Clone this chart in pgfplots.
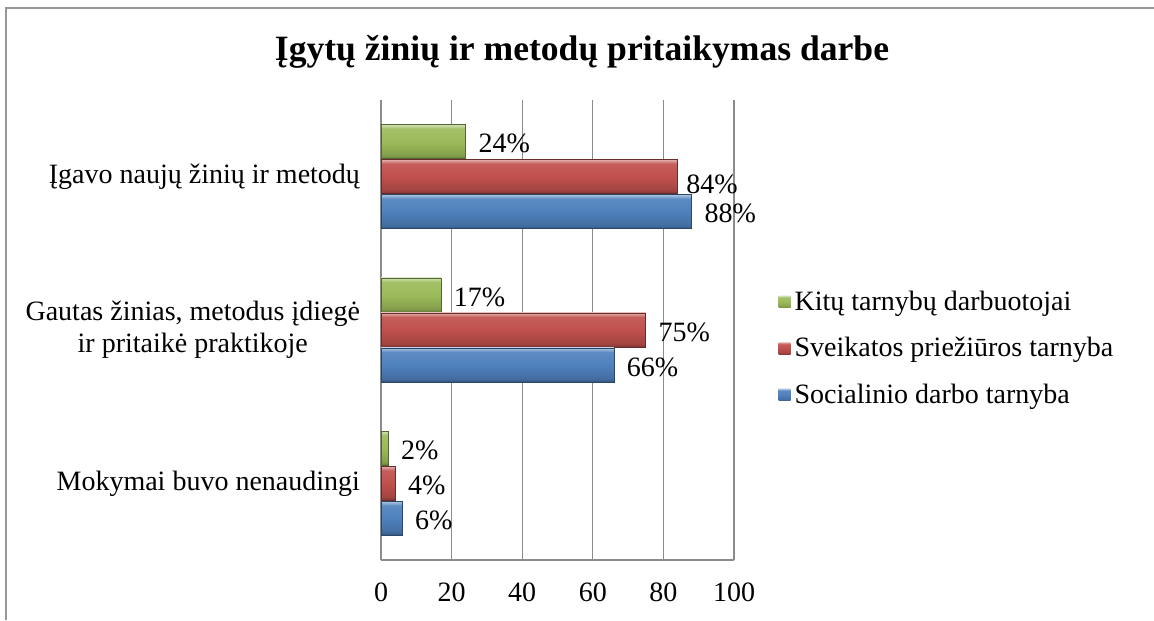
\documentclass[border=0pt]{standalone}
\usepackage{fontspec}
\setmainfont{Liberation Serif}
\usepackage{pgfplots}
\pgfplotsset{compat=1.18}
\definecolor{cgreen}{HTML}{9BBB59}
\definecolor{cred}{HTML}{C0504D}
\definecolor{cblue}{HTML}{4F81BD}
\definecolor{gridgray}{HTML}{8C8C8C}
\pgfdeclareverticalshading{gshade}{100bp}{color(0bp)=(cgreen!65!black); color(25bp)=(cgreen!65!black); color(30bp)=(cgreen!85!black); color(50bp)=(cgreen); color(69bp)=(cgreen!92!white); color(75bp)=(cgreen!45!white); color(100bp)=(cgreen!45!white)}
\pgfdeclareverticalshading{rshade}{100bp}{color(0bp)=(cred!65!black); color(25bp)=(cred!65!black); color(30bp)=(cred!85!black); color(50bp)=(cred); color(69bp)=(cred!92!white); color(75bp)=(cred!45!white); color(100bp)=(cred!45!white)}
\pgfdeclareverticalshading{bshade}{100bp}{color(0bp)=(cblue!65!black); color(25bp)=(cblue!65!black); color(30bp)=(cblue!85!black); color(50bp)=(cblue); color(69bp)=(cblue!92!white); color(75bp)=(cblue!45!white); color(100bp)=(cblue!45!white)}
\pgfplotsset{
  gbar/.style={bar shift=17.5pt, draw=cgreen!55!black, line width=0.3pt, shading=gshade, shade},
  rbar/.style={bar shift=0pt, draw=cred!55!black, line width=0.3pt, shading=rshade, shade},
  bbar/.style={bar shift=-17.5pt, draw=cblue!55!black, line width=0.3pt, shading=bshade, shade},
}
\begin{document}
\begin{tikzpicture}
\useasboundingbox (0,0) rectangle (577pt,310pt);
\draw[gridgray!90, line width=1.2pt] (3pt,0) -- (3pt,306pt) -- (577pt,306pt);
\node[font=\bfseries\fontsize{17.8}{21}\selectfont] at (291pt,284pt) {Įgytų žinių ir metodų pritaikymas darbe};
\begin{axis}[
  at={(190.5pt,30pt)}, anchor=south west,
  scale only axis, width=176.5pt, height=230pt,
  xmin=0, xmax=100, ymin=-0.5, ymax=2.5,
  xtick={0,20,...,100}, ytick={0,1,2},
  yticklabels={Mokymai buvo nenaudingi, {Gautas žinias, metodus įdiegė\\ir pritaikė praktikoje}, Įgavo naujų žinių ir metodų},
  /pgf/number format/assume math mode=true,
  tick label style={font=\fontsize{14}{16}\selectfont},
  yticklabel style={align=center, xshift=-7pt},
  xticklabel style={yshift=-8pt},
  xmajorgrids, grid style={gridgray, line width=0.6pt},
  axis x line*=bottom, axis y line*=left,
  axis line style={gridgray, line width=0.6pt, -},
  major tick length=0pt,
  xbar, bar width=17pt,
  point meta=x,
  nodes near coords={\pgfmathprintnumber{\pgfplotspointmeta}\%},
  every node near coord/.append style={font=\fontsize{14}{16}\selectfont, xshift=3pt, yshift=-1pt},
  legend style={at={(axis description cs:1.125,0.46)}, anchor=west, draw=none,
    font=\fontsize{14}{16}\selectfont, row sep=8pt, inner sep=0pt,
    nodes={inner sep=2pt}},
  legend cell align=left,
  legend image code/.code={\path[#1, draw=none] (0pt,-3pt) rectangle (6pt,3pt);},
]
\addplot[gbar] coordinates {(17,1)};
\addplot[rbar] coordinates {(75,1)};
\addplot[bbar] coordinates {(66,1)};
\addplot[gbar, forget plot] coordinates {(24,2)};
\addplot[gbar, forget plot] coordinates {(2,0)};
\addplot[rbar, forget plot, every node near coord/.append style={xshift=-2pt, yshift=-3pt}] coordinates {(84,2)};
\addplot[rbar, forget plot] coordinates {(4,0)};
\addplot[bbar, forget plot] coordinates {(88,2)};
\addplot[bbar, forget plot] coordinates {(6,0)};
\legend{Kitų tarnybų darbuotojai, Sveikatos priežiūros tarnyba, Socialinio darbo tarnyba}
\end{axis}
\end{tikzpicture}
\end{document}
